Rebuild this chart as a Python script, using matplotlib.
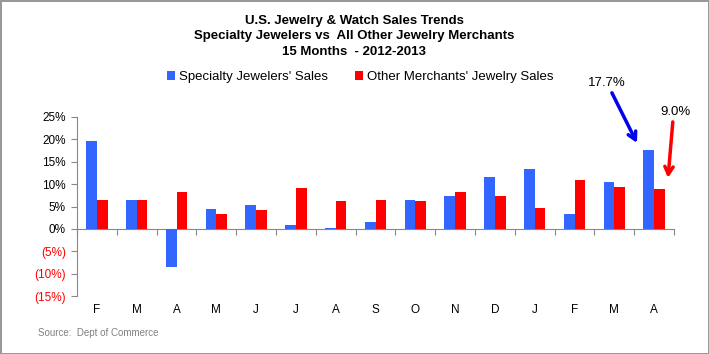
import numpy as np
import matplotlib.pyplot as plt
from matplotlib.ticker import FuncFormatter

months = ['F', 'M', 'A', 'M', 'J', 'J', 'A', 'S', 'O', 'N', 'D', 'J', 'F', 'M', 'A']
specialty = [19.6, 6.5, -8.6, 4.5, 5.4, 0.9, 0.3, 1.6, 6.5, 7.4, 11.6, 13.4, 3.3, 10.5, 17.7]
other = [6.5, 6.5, 8.3, 3.3, 4.2, 9.2, 6.2, 6.5, 6.2, 8.3, 7.4, 4.7, 10.9, 9.4, 9.0]
yticks = [-15, -10, -5, 0, 5, 10, 15, 20, 25]

BLUE = '#3366FF'
RED = '#FF0000'
GRID = '#888888'
NARROW = ['Liberation Sans Narrow', 'Liberation Sans', 'DejaVu Sans']
ARIAL = ['Liberation Sans', 'DejaVu Sans']

fig = plt.figure(figsize=(7.09, 3.54), dpi=100, edgecolor='#999999', linewidth=2)
ax = fig.add_axes([77 / 709, 1 - 296 / 354, (674 - 77) / 709, (296 - 117) / 354])

x = np.arange(len(months))
w = 0.27
ax.bar(x - w / 2, specialty, w, color=BLUE, label="Specialty Jewelers' Sales")
ax.bar(x + w / 2, other, w, color=RED, label="Other Merchants' Jewelry Sales")

ax.set_xlim(-0.5, len(months) - 0.5)
ax.set_ylim(-15, 25)
ax.set_yticks(yticks)


def pct(v, pos):
    v = int(round(v))
    return '({}%)'.format(-v) if v < 0 else '{}%'.format(v)


ax.yaxis.set_major_formatter(FuncFormatter(pct))
ax.tick_params(axis='y', direction='out', length=4, color=GRID, pad=4, labelsize=8.5)
for lab, v in zip(ax.get_yticklabels(), yticks):
    lab.set_fontfamily(ARIAL)
    lab.set_color(RED if v < 0 else 'black')

ax.set_xticks(x, months)
ax.tick_params(axis='x', length=0, pad=6, labelsize=8.5)
for lab in ax.get_xticklabels():
    lab.set_fontfamily(ARIAL)

for s in ['top', 'right', 'bottom']:
    ax.spines[s].set_visible(False)
ax.spines['left'].set_color(GRID)

# zero line with category boundary ticks
zero_ax = ax.secondary_xaxis(15 / 40)
zero_ax.spines['bottom'].set_color(GRID)
zero_ax.set_xticks(np.arange(len(months) + 1) - 0.5, [''] * (len(months) + 1))
zero_ax.tick_params(direction='out', length=4, color=GRID)

fig.text(0.5, 1 - 15 / 354, 'U.S. Jewelry & Watch Sales Trends\nSpecialty Jewelers vs  All Other Jewelry Merchants\n15 Months  - 2012-2013',
         ha='center', va='top', fontsize=9.5, fontweight='bold', family=NARROW, linespacing=1.38)

ax.legend(loc='center left', bbox_to_anchor=(155 / 709, 1 - 77 / 354), bbox_transform=fig.transFigure,
          ncol=2, frameon=False, handlelength=0.6, handleheight=0.6, handletextpad=0.3,
          columnspacing=2.1, prop={'family': NARROW, 'size': 9.5})

arrow = dict(arrowstyle='->,head_length=0.55,head_width=0.3', lw=2.5, shrinkA=0, shrinkB=0)
ax.text(12.82, 32.6, '17.7%', ha='center', va='center', fontsize=9.5, family=NARROW, clip_on=False)
ax.annotate('', xy=(13.57, 19.2), xytext=(12.94, 30.4), annotation_clip=False,
            arrowprops=dict(arrow, color='#0000EE'))
ax.text(14.53, 26.1, '9.0%', ha='center', va='center', fontsize=9.5, family=NARROW, clip_on=False)
ax.annotate('', xy=(14.35, 11.4), xytext=(14.47, 23.9), annotation_clip=False,
            arrowprops=dict(arrow, color=RED))

fig.text(38 / 709, 1 - 333 / 354, 'Source:  Dept of Commerce', ha='left', va='center',
         fontsize=7, color='#808080', family=ARIAL)

fig.savefig('out.png', dpi=100)
